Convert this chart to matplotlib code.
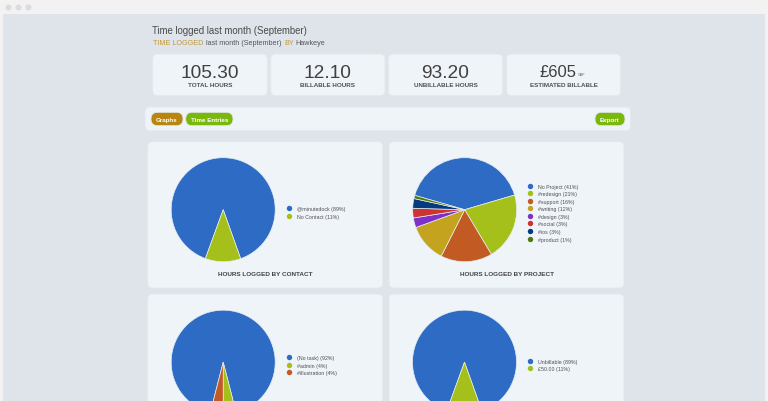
import matplotlib
matplotlib.use('Agg')
import matplotlib.pyplot as plt
from matplotlib.patches import FancyBboxPatch, Rectangle

plt.rcParams['font.family'] = ['Liberation Sans', 'DejaVu Sans']

W, H = 768, 402
PIE_COLORS = ['#2d6bc4', '#a5bf1b', '#c25a24', '#c4a31e', '#7e30c8', '#cc3333', '#053a80', '#4f7a0a']

# stat boxes
stat_values = ['105.30', '12.10', '93.20', '£605']
stat_labels = ['TOTAL HOURS', 'BILLABLE HOURS', 'UNBILLABLE HOURS', 'ESTIMATED BILLABLE']

# pies: shares and legend text as printed
contact_names = ['@minutedock', 'No Contact']
contact_vals = [89, 11]
project_names = ['No Project', '#redesign', '#support', '#writing', '#design', '#social', '#ios', '#product']
project_vals = [41, 21, 16, 12, 3, 3, 3, 1]
task_names = ['(No task)', '#admin', '#illustration']
task_vals = [92, 4, 4]
billable_names = ['Unbillable', '£50.00']
billable_vals = [89, 11]

fig = plt.figure(figsize=(W / 100, H / 100), dpi=100, facecolor='#f2f2f2')
bg = fig.add_axes([0, 0, 1, 1])
bg.set_xlim(0, W)
bg.set_ylim(H, 0)
bg.axis('off')


def card(x0, y0, x1, y1, color='#eff4f9', r=5):
    bg.add_patch(FancyBboxPatch((x0, y0), x1 - x0, y1 - y0,
                                boxstyle=f'round,pad=0,rounding_size={r}',
                                fc=color, ec='#e3e8ee', lw=0.6))


def label(x, y, s, size, color='#4a4a4a', ha='center', weight='normal'):
    bg.text(x, y, s, fontsize=size, color=color, ha=ha, va='center_baseline', fontweight=weight)


def pie_block(cx, cy, vals, names, start, dot_x, dot_y, step=7.55, title=None, title_x=None):
    r = 52
    m = 53
    ax = fig.add_axes([(cx - m) / W, (H - cy - m) / H, 2 * m / W, 2 * m / H])
    ax.pie(vals, colors=PIE_COLORS, startangle=start, counterclock=False, radius=r / m,
           wedgeprops={'edgecolor': '#e9edf0', 'linewidth': 0.5})
    ax.set_xlim(-1, 1)
    ax.set_ylim(-1, 1)
    for i, name in enumerate(names):
        y = dot_y + i * step
        bg.plot(dot_x, y, 'o', ms=3.9, mew=0, color=PIE_COLORS[i])
        label(dot_x + 8, y, f'{name} ({vals[i]}%)', 3.75, color='#505050', ha='left')
    if title:
        label(title_x, 274.3, title, 4.6, color='#444444', weight='bold')


# window
bg.add_patch(Rectangle((3, 15), 762, H, fc='#dfe3ea', ec='none'))
for x in [8, 17.5, 28]:
    bg.plot(x, 8, 'o', ms=4.3, mew=0, color='#dcdcdc')

# header
label(152.5, 30.5, 'Time logged last month (September)', 6.9, ha='left', color='#4a4a4a')
label(152.7, 42.7, 'TIME LOGGED', 5.2, color='#c49a3a', ha='left')
label(205.7, 42.7, 'last month (September)', 5.2, ha='left', color='#55595e')
label(284, 42.7, 'BY', 5.2, color='#c49a3a', ha='left')
label(295.7, 42.7, 'Hawkeye', 5.2, ha='left', color='#55595e')

# stat boxes
box_x = [(152.7, 267.3), (270.7, 385), (388.3, 502.7), (506.7, 620.7)]
for (x0, x1), val, lab in zip(box_x, stat_values, stat_labels):
    card(x0, 55, x1, 96.7)
    mid = (x0 + x1) / 2
    if val.startswith('£'):
        label(558, 71, val, 12, color='#404040')
        label(582, 74, 'GBP', 2.6, color='#666666')
    else:
        label(mid, 71.7, val, 13.8, color='#404040')
    label(mid, 85, lab, 4.5, color='#505050', weight='bold')

# toolbar
card(145, 108, 630.7, 131.7)
buttons = [(151, 183, 'Graphs', '#b8860f'), (185.7, 233, 'Time Entries', '#7ab80e'), (595, 625, 'Export', '#7ab80e')]
for x0, x1, s, c in buttons:
    card(x0, 113.3, x1, 126.7, color=c, r=6.5)
    label((x0 + x1) / 2, 120, s, 4.5, color='white', weight='bold')

# chart cards
card(147.7, 142.7, 382.8, 289)
card(389, 142.7, 624, 289)
card(147.7, 295, 382.8, 420)
card(389, 295, 624, 420)

pie_block(223.2, 210.7, contact_vals, contact_names, -110, 288.7, 209, title='HOURS LOGGED BY CONTACT', title_x=265)
pie_block(464.7, 210.7, project_vals, project_names, 164, 530, 186.7, title='HOURS LOGGED BY PROJECT', title_x=506.7)
pie_block(223.2, 363.2, task_vals, task_names, -104.4, 288.7, 358)
pie_block(464.5, 363.2, billable_vals, billable_names, -110, 530, 361.7)

fig.savefig('out.png', dpi=100, facecolor=fig.get_facecolor())
